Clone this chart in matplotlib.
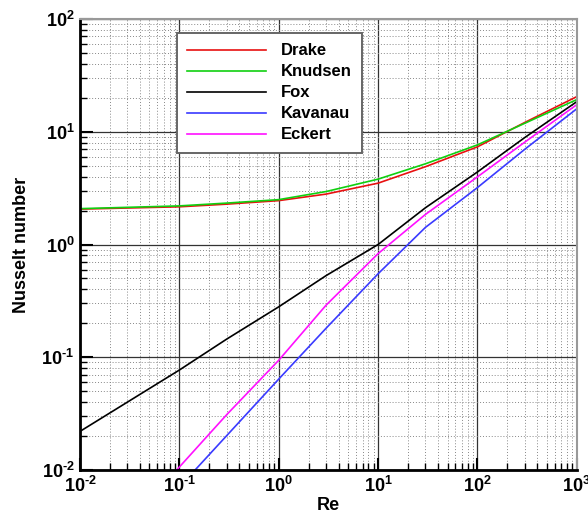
import numpy as np
import matplotlib
matplotlib.use("Agg")
from matplotlib import pyplot as plt
from matplotlib.ticker import LogLocator, FuncFormatter

plt.rcParams['font.family'] = ['Liberation Sans', 'DejaVu Sans']
plt.rcParams['font.weight'] = 'bold'
plt.rcParams['mathtext.fontset'] = 'custom'
plt.rcParams['mathtext.rm'] = 'Liberation Sans:bold'
plt.rcParams['mathtext.bf'] = 'Liberation Sans:bold'

# Nusselt number correlations read at a few Reynolds numbers
re_pts = [0.01, 0.1, 0.3, 1, 3, 10, 30, 100, 300, 1000]
drake = [2.06, 2.16, 2.28, 2.45, 2.8, 3.5, 4.9, 7.35, 12.1, 20.5]
knudsen = [2.08, 2.2, 2.33, 2.5, 2.95, 3.8, 5.2, 7.65, 11.9, 19.3]
fox = [0.022, 0.077, 0.145, 0.28, 0.53, 1.0, 2.12, 4.4, 8.9, 18.5]

re_eck = [0.094, 0.3, 1, 3, 10, 30, 100, 300, 1000]
eckert = [0.01, 0.031, 0.094, 0.29, 0.83, 1.85, 3.98, 8.1, 17.4]

re_kav = [0.144, 0.3, 1, 3, 10, 30, 100, 300, 1000]
kavanau = [0.01, 0.0202, 0.064, 0.181, 0.55, 1.42, 3.2, 7.0, 16.0]

fig = plt.figure(figsize=(5.88, 5.22), dpi=100)
ax = fig.add_axes([0.136, 0.0996, 0.845, 0.864])

lw = 1.2
ax.plot(re_pts, drake, color='#e81010', lw=lw, label='Drake')
ax.plot(re_pts, knudsen, color='#10d010', lw=lw, label='Knudsen')
ax.plot(re_pts, fox, color='black', lw=lw, label='Fox')
ax.plot(re_kav, kavanau, color='#3a3aff', lw=lw, label='Kavanau')
ax.plot(re_eck, eckert, color='#ff10ff', lw=lw, label='Eckert')

ax.set_xscale('log')
ax.set_yscale('log')
ax.set_xlim(1e-2, 1e3)
ax.set_ylim(1e-2, 1e2)

def pow10(v, pos):
    e = int(round(np.log10(v)))
    if e < 0:
        return r'$\mathbf{10^{\text{-}%d}}$' % (-e)
    return r'$\mathbf{10^{%d}}$' % e

for axis in (ax.xaxis, ax.yaxis):
    axis.set_major_locator(LogLocator(base=10, numticks=10))
    axis.set_minor_locator(LogLocator(base=10, subs=np.arange(2, 10), numticks=10))
    axis.set_major_formatter(FuncFormatter(pow10))

ax.tick_params(which='major', direction='in', length=9, width=1.5, labelsize=13,
               top=False, right=False, pad=4)
ax.tick_params(which='minor', direction='in', length=5, width=1.0,
               top=False, right=False)

ax.grid(which='major', color='#333333', lw=0.9, ls='-')
ax.grid(which='minor', color='#888888', lw=0.7, ls=(0, (1, 2)))

for side in ('left', 'bottom'):
    ax.spines[side].set_linewidth(2)
    ax.spines[side].set_color('black')
for side in ('top', 'right'):
    ax.spines[side].set_linewidth(1.5)
    ax.spines[side].set_color('#999999')

ax.set_xlabel('Re', fontsize=13, fontweight='bold', labelpad=1)
ax.set_ylabel('Nusselt number', fontsize=13, fontweight='bold', labelpad=8)

leg = ax.legend(loc='upper left', bbox_to_anchor=(0.195, 0.969), borderaxespad=0,
                handlelength=4.7, handletextpad=0.9, labelspacing=0.36,
                borderpad=0.63, fancybox=False, framealpha=1, edgecolor='#666666',
                prop={'weight': 'bold', 'size': 12})
leg.get_frame().set_linewidth(1.4)

fig.savefig('out.png', dpi=100)
